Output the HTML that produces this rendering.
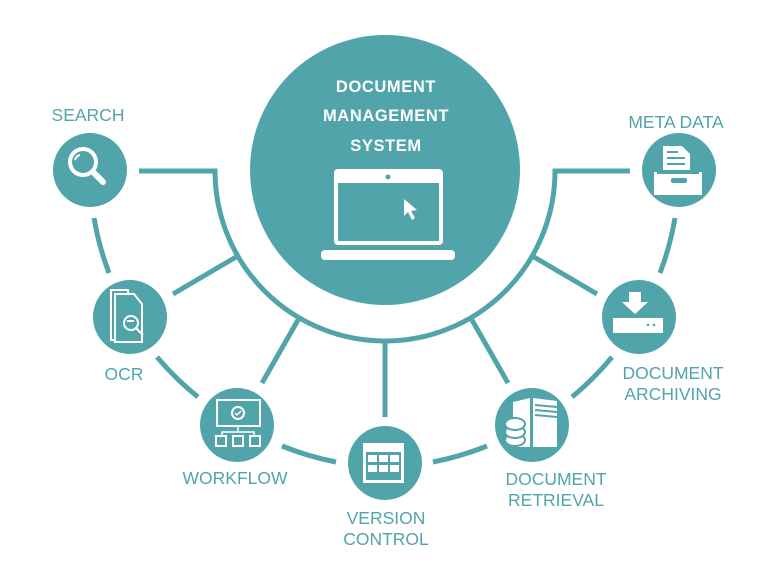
<!DOCTYPE html>
<html><head><style>
html,body{margin:0;padding:0;background:#fff;}
svg{display:block}
text{font-family:"Liberation Sans","DejaVu Sans",sans-serif;}
</style></head><body>
<svg width="768" height="565" viewBox="0 0 768 565" xmlns="http://www.w3.org/2000/svg">
<g fill="none" stroke="#52a4ab" stroke-width="5">
<path d="M139 171 H215 A170 170 0 0 0 555 171 H630"/>
<line x1="236" y1="257" x2="173" y2="294"/>
<line x1="298" y1="320" x2="262" y2="383"/>
<line x1="385" y1="340" x2="385" y2="417"/>
<line x1="472" y1="320" x2="508" y2="383"/>
<line x1="534" y1="257" x2="597" y2="294"/>
<path d="M94 218 A295 295 0 0 0 109 273"/>
<path d="M157 357 A295 295 0 0 0 198 397"/>
<path d="M282 446 A295 295 0 0 0 336 462"/>
<path d="M433 462 A295 295 0 0 0 487 446"/>
<path d="M572 397 A295 295 0 0 0 612 357"/>
<path d="M660 273 A295 295 0 0 0 675 218"/>
</g>
<g fill="#52a4ab">
<circle cx="385" cy="170" r="135"/>
<circle cx="90" cy="170" r="37"/>
<circle cx="130" cy="317" r="37"/>
<circle cx="237" cy="425" r="37"/>
<circle cx="385" cy="463" r="37"/>
<circle cx="532" cy="425" r="37"/>
<circle cx="639" cy="317" r="37"/>
<circle cx="679" cy="170" r="37"/>
</g>
<g fill="#fff" font-weight="bold" font-size="16.5" letter-spacing="0.6" text-anchor="middle">
<text x="386" y="92">DOCUMENT</text>
<text x="386" y="121">MANAGEMENT</text>
<text x="386" y="151">SYSTEM</text>
</g>
<rect x="334" y="169" width="109" height="76" rx="4" fill="#fff"/>
<rect x="338" y="183" width="101" height="58" fill="#52a4ab"/>
<circle cx="388" cy="177" r="2.5" fill="#52a4ab"/>
<rect x="321" y="250" width="134" height="10" rx="4" fill="#fff"/>
<path d="M404 199 L404 216 L408 212 L412 220 L415 218 L411 211 L417 210 Z" fill="#fff"/>
<g stroke="#fff" fill="none">
<circle cx="83" cy="162" r="13" stroke-width="4"/>
<path d="M80 155 a7 7 0 0 0 -5 5" stroke-width="2"/>
<line x1="93" y1="172" x2="103" y2="182" stroke-width="6" stroke-linecap="round"/>
<path d="M111 290 H128 V340 H111 Z" stroke-width="2"/>
<path d="M115 294 H134 L142 304 V342 H115 Z" stroke-width="2" fill="#52a4ab"/>
<circle cx="131" cy="323" r="7" stroke-width="2"/>
<line x1="127" y1="321" x2="134" y2="321" stroke-width="2"/>
<line x1="136" y1="328" x2="143" y2="335" stroke-width="2"/>
<rect x="217" y="400" width="43" height="26" stroke-width="2"/>
<circle cx="238" cy="413" r="6" stroke-width="2"/>
<path d="M235 413 l2 2 l4 -4" stroke-width="1.5"/>
<path d="M238 426 v6 M222 436 v-4 h32 v4" stroke-width="1.5"/>
<rect x="216" y="436" width="10" height="10" stroke-width="2"/>
<rect x="233" y="436" width="10" height="10" stroke-width="2"/>
<rect x="250" y="436" width="10" height="10" stroke-width="2"/>
</g>
<g fill="#fff">
<rect x="363" y="443" width="41" height="40"/>
<rect x="366" y="452" width="35" height="28" fill="#52a4ab"/>
<g fill="#fff"><rect x="368" y="455" width="9" height="7"/><rect x="379" y="455" width="9" height="7"/><rect x="390" y="455" width="9" height="7"/>
<rect x="368" y="465" width="9" height="7"/><rect x="379" y="465" width="9" height="7"/><rect x="390" y="465" width="9" height="7"/></g>
<path d="M513 402 L530 398 V447 H513 Z"/>
<path d="M533 398 L557 401 V447 H533 Z"/>
<g stroke="#52a4ab" stroke-width="2"><line x1="535" y1="405" x2="557" y2="407"/><line x1="535" y1="410" x2="557" y2="412"/><line x1="535" y1="415" x2="557" y2="417"/></g>
<ellipse cx="515" cy="440" rx="10" ry="6" stroke="#52a4ab" stroke-width="2"/>
<ellipse cx="515" cy="432" rx="10" ry="6" stroke="#52a4ab" stroke-width="2"/>
<ellipse cx="515" cy="424" rx="10" ry="6" stroke="#52a4ab" stroke-width="2"/>
<path d="M629 292 H641 V302 H648 L635 314 L622 302 H629 Z"/>
<rect x="613" y="318" width="50" height="15"/>
<circle cx="648" cy="325" r="1.3" fill="#52a4ab"/><circle cx="654" cy="325" r="1.3" fill="#52a4ab"/>
<path d="M663 146 H682 L690 154 V178 H663 Z"/>
<g stroke="#52a4ab" stroke-width="2"><line x1="667" y1="152" x2="678" y2="152"/><line x1="667" y1="158" x2="685" y2="158"/><line x1="667" y1="164" x2="685" y2="164"/></g>
<path d="M654 172 H702 V195 H654 Z"/>
<rect x="657" y="170" width="42" height="4" fill="#52a4ab"/>
<rect x="671" y="178" width="16" height="5" rx="2" fill="#52a4ab"/>
</g>
<g fill="#52a4ab" font-size="17.5" text-anchor="middle">
<text x="88" y="121">SEARCH</text>
<text x="676" y="128">META DATA</text>
<text x="124" y="380">OCR</text>
<text x="235" y="484">WORKFLOW</text>
<text x="386" y="524">VERSION</text>
<text x="386" y="545">CONTROL</text>
<text x="556" y="485">DOCUMENT</text>
<text x="556" y="506">RETRIEVAL</text>
<text x="673" y="379">DOCUMENT</text>
<text x="673" y="400">ARCHIVING</text>
</g>
</svg>
</body></html>
